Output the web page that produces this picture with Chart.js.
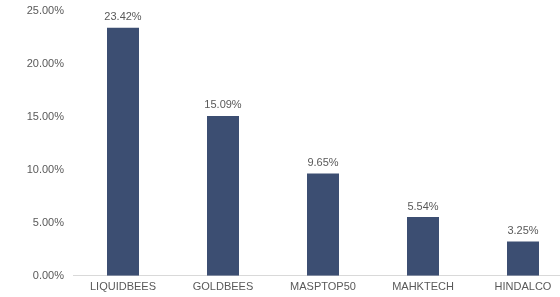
<!DOCTYPE html>
<html>
<head>
<meta charset="utf-8">
<script src="https://cdn.jsdelivr.net/npm/chart.js@4/dist/chart.umd.min.js"></script>
<style>
  html, body { margin: 0; padding: 0; background: #fff; overflow: hidden; }
  #wrap { width: 573px; height: 297px; }
</style>
</head>
<body>
<div id="wrap"><canvas id="chart" width="573" height="297"></canvas></div>
<script>
// ── DATA ──────────────────────────────────────────────
const CATEGORIES = ['LIQUIDBEES', 'GOLDBEES', 'MASPTOP50', 'MAHKTECH', 'HINDALCO'];
const WEIGHTS    = [23.42, 15.09, 9.65, 5.54, 3.25];
const Y_TICKS    = [0, 5, 10, 15, 20, 25];

const TEXT = '#595959';
const FONT = { family: 'Arial, "Liberation Sans", sans-serif', size: 11 };

// value labels above bars
const valueLabels = {
  id: 'valueLabels',
  afterDatasetsDraw(chart) {
    const { ctx } = chart;
    const meta = chart.getDatasetMeta(0);
    ctx.save();
    ctx.font = `${FONT.size}px ${FONT.family}`;
    ctx.fillStyle = TEXT;
    ctx.textAlign = 'center';
    ctx.textBaseline = 'bottom';
    meta.data.forEach((bar, i) => {
      ctx.fillText(WEIGHTS[i].toFixed(2) + '%', bar.x, bar.y - 5);
    });
    ctx.restore();
  }
};

new Chart(document.getElementById('chart'), {
  type: 'bar',
  data: {
    labels: CATEGORIES,
    datasets: [{
      data: WEIGHTS,
      backgroundColor: '#3c4e72',
      barPercentage: 0.4,
      categoryPercentage: 0.8,
    }]
  },
  options: {
    responsive: false,
    animation: false,
    layout: { padding: { top: 11, left: 0, right: 0, bottom: -2 } },
    plugins: { legend: { display: false }, tooltip: { enabled: false } },
    scales: {
      x: {
        grid: { display: false, drawTicks: false },
        border: { display: true, color: '#d9d9d9' },
        ticks: { color: TEXT, font: FONT, padding: 5, autoSkip: false, maxRotation: 0 }
      },
      y: {
        min: 0,
        max: 25,
        afterBuildTicks: axis => { axis.ticks = Y_TICKS.map(v => ({ value: v })); },
        afterFit: axis => { axis.width = 73; axis.paddingTop = 0; axis.paddingBottom = 0; },
        grid: { display: false, drawTicks: false },
        border: { display: false },
        ticks: { color: TEXT, font: FONT, padding: 9, callback: v => v.toFixed(2) + '%' }
      }
    }
  },
  plugins: [valueLabels]
});
</script>
</body>
</html>
